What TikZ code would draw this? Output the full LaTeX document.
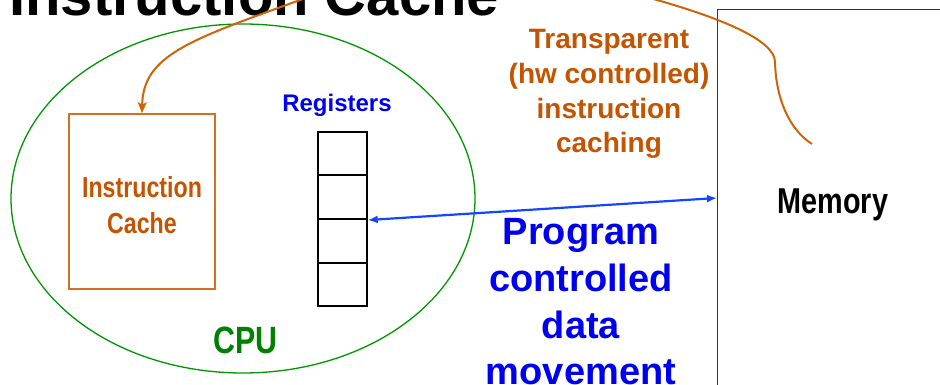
\documentclass[tikz,border=0pt]{standalone}
\usepackage{fontspec}
\setmainfont{Liberation Sans}
\newfontfamily\narrowsans[FakeStretch=0.8]{Liberation Sans}
\usetikzlibrary{arrows.meta}
\definecolor{ictext}{RGB}{196,84,0}
\definecolor{icbox}{RGB}{214,112,30}
\definecolor{curvecol}{RGB}{205,100,10}
\definecolor{bluetext}{RGB}{0,0,240}
\definecolor{bluearrow}{RGB}{20,70,255}
\definecolor{cpugreen}{RGB}{0,150,0}
\definecolor{cputext}{RGB}{0,128,0}
\tikzset{
  regcell/.style={draw=black, line width=2pt, minimum width=49pt, minimum height=43.7pt, inner sep=0pt},
  lbl/.style={inner sep=0pt, align=center},
}
\begin{document}
\begin{tikzpicture}[x=1pt,y=-1pt]
\useasboundingbox (0,0) rectangle (940,385);
\clip (0,0) rectangle (940,385);
% title
\node[lbl, anchor=base west, font=\fontsize{58}{70}\selectfont\bfseries] (title) at (9,16) {Instruction Cache};
% CPU ellipse
\draw[cpugreen, line width=1.3pt] (243,198.5) ellipse [x radius=232pt, y radius=174.5pt];
\node[lbl, anchor=base, text=cputext, font=\narrowsans\fontsize{38}{44}\selectfont\bfseries] (cpu) at (245.5,353) {CPU};
% instruction cache
\node[draw=icbox, line width=1.5pt, minimum width=146pt, minimum height=175pt, inner sep=0pt] (ic) at (142,201.5) {};
\node[lbl, text=ictext, font=\narrowsans\fontsize{29}{35.5}\selectfont\bfseries] (ictxt) at (142,205) {Instruction\\Cache};
% registers
\node[lbl, anchor=base, text=bluetext, font=\fontsize{24}{28}\selectfont\bfseries] (reglbl) at (337,112) {Registers};
\node[regcell] (r1) at (342.2,153.5) {};
\node[regcell] (r2) at (342.2,197.2) {};
\node[regcell] (r3) at (342.2,240.9) {};
\node[regcell] (r4) at (342.2,284.6) {};
% memory
\node[draw=black!80, line width=1.3pt, minimum width=260pt, minimum height=420pt, inner sep=0pt, anchor=north west] (mem) at (717,9) {};
\node[lbl, anchor=base, font=\narrowsans\fontsize{36}{42}\selectfont\bfseries] (memlbl) at (833,213) {Memory};
\coordinate (memin) at (717,198);
% data movement arrow
\draw[bluearrow, line width=2.2pt, {Latex[length=10pt,width=8pt]}-{Latex[length=10pt,width=8pt]}] (r2.south east) -- (memin);
% transparent caching curve
\coordinate (cstart) at (812,144);
\draw[curvecol, line width=2pt, -{Stealth[length=11pt,width=9pt,inset=2.5pt]}]
  (cstart) .. controls (790,130) and (776,100) .. (775,62)
  .. controls (775,40) and (720,18) .. (657,0)
  .. controls (562,-27) and (410,-40) .. (300,0)
  .. controls (190,40) and (143,55) .. (ic.north);
% labels
\node[lbl, text=ictext, font=\fontsize{28}{34.7}\selectfont\bfseries] (transp) at (609,94) {Transparent\\(hw controlled)\\instruction\\caching};
\node[lbl, text=bluetext, font=\fontsize{38}{46.7}\selectfont\bfseries] (prog) at (581,302) {Program\\controlled\\data\\movement};
\end{tikzpicture}
\end{document}
